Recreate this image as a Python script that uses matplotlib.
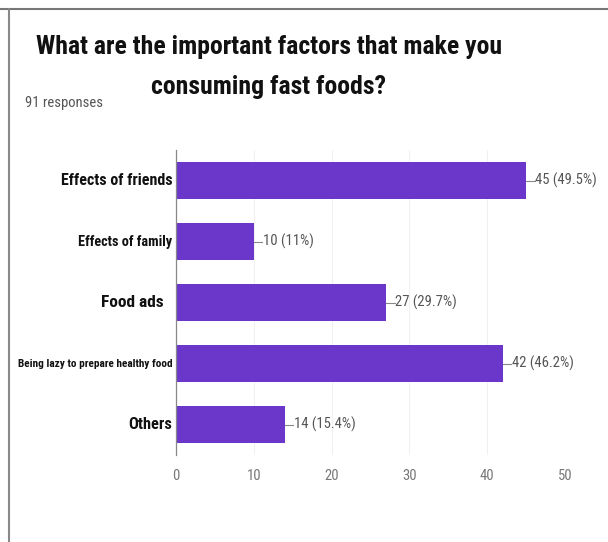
import matplotlib
matplotlib.use("Agg")
import matplotlib.pyplot as plt
from matplotlib.lines import Line2D

# ── data ────────────────────────────────────────
categories = ["Effects of friends", "Effects of family", "Food ads",
              "Being lazy to prepare healthy food", "Others"]
counts = [45, 10, 27, 42, 14]
percents = ["49.5%", "11%", "29.7%", "46.2%", "15.4%"]
label_sizes = [11.5, 10.3, 12.5, 8.1, 11.8]
label_pad = [0.5, 0.5, 1.6, 0.5, 0.5]   # "Food ads" sits a bit further left
xticks = [0, 10, 20, 30, 40, 50]

title_lines = ["What are the important factors that make you",
               "consuming fast foods?"]
subtitle = "91 responses"

FONT = ["Roboto Condensed", "DejaVu Sans"]
plt.rcParams["font.family"] = FONT
PURPLE = "#6a37ca"

fig = plt.figure(figsize=(6.08, 5.42), dpi=100)
ax = fig.add_axes([0.2895, 0.1605, 0.6398, 0.5627])

y = list(range(len(categories)))
ax.barh(y, counts, height=0.6, color=PURPLE, zorder=3)
ax.set_ylim(4.5, -0.5)
ax.set_xlim(0, 50)

# value labels with small leader line
for i, (v, p) in enumerate(zip(counts, percents)):
    ax.plot([v, v + 1.1], [i, i], color="#888888", lw=0.8, zorder=3)
    ax.text(v + 1.15, i, f"{v} ({p})", va="center", ha="left",
            fontsize=10.5, color="#555555")

ax.set_yticks(y)
ax.set_yticklabels([])
for i, (c, s, pad) in enumerate(zip(categories, label_sizes, label_pad)):
    ax.text(-pad, i, c, ha="right", va="center", fontsize=s,
            fontweight="bold", color="#111111")
ax.tick_params(axis="y", length=0)

ax.set_xticks(xticks)
ax.set_xticklabels([str(t) for t in xticks], fontsize=10.5, color="#777777")
ax.tick_params(axis="x", length=0, pad=10)
ax.grid(axis="x", color="#f0f0f0", lw=0.8, zorder=0)

for s in ["top", "right", "bottom"]:
    ax.spines[s].set_visible(False)
ax.spines["left"].set_color("#888888")
ax.spines["left"].set_linewidth(0.9)
ax.spines["left"].set_zorder(4)

# title (two lines, centred) & subtitle
for line, ypx in zip(title_lines, [47, 87]):
    fig.text(269 / 608, 1 - ypx / 542, line, ha="center", va="center",
             fontsize=18.5, fontweight="bold", color="#111111")
fig.text(25 / 608, 1 - 103 / 542, subtitle, ha="left", va="center",
         fontsize=10.5, color="#555555")

# screenshot frame
fig.add_artist(Line2D([0, 1], [1 - 9 / 542, 1 - 9 / 542],
                      transform=fig.transFigure, color="#777777", lw=1.5))
fig.add_artist(Line2D([9 / 608, 9 / 608], [0, 1 - 9 / 542],
                      transform=fig.transFigure, color="#888888", lw=1.5))

fig.savefig("out.png", dpi=100)
